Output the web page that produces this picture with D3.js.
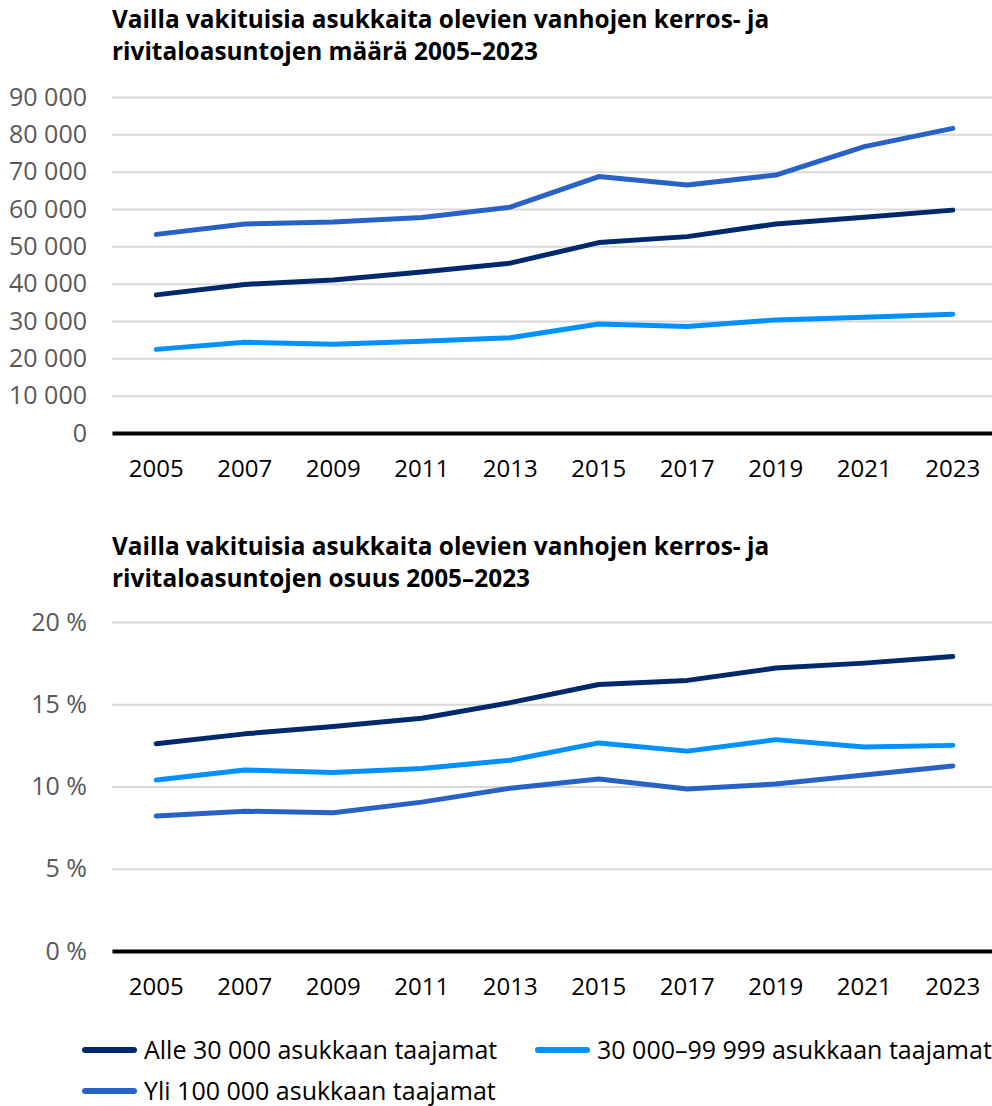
<!DOCTYPE html>
<html>
<head>
<meta charset="utf-8">
<script src="https://cdn.jsdelivr.net/npm/d3@7"></script>
<style>
  body { margin: 0; background: #fff; }
  svg { display: block; font-family: "Open Sans", "Noto Sans", sans-serif; }
</style>
</head>
<body>
<div id="chart"></div>
<script>
// ----- Data -------
const years = ["2005", "2007", "2009", "2011", "2013", "2015", "2017", "2019", "2021", "2023"];
const seriesNames = ["Alle 30 000 asukkaan taajamat", "30 000–99 999 asukkaan taajamat", "Yli 100 000 asukkaan taajamat"];
const seriesColors = ["#00296b", "#0091ff", "#2862c6"];

// määrä (count of dwellings)
const countSmall = [37000, 39800, 41000, 43100, 45500, 51000, 52600, 56000, 57800, 59700];
const countMid = [22400, 24300, 23800, 24600, 25500, 29200, 28500, 30300, 31000, 31800];
const countLarge = [53200, 56000, 56500, 57700, 60500, 68700, 66400, 69100, 76700, 81600];

// osuus (share, %)
const shareSmall = [12.6, 13.2, 13.65, 14.15, 15.1, 16.2, 16.45, 17.2, 17.5, 17.9];
const shareMid = [10.4, 11.0, 10.85, 11.1, 11.6, 12.65, 12.15, 12.85, 12.4, 12.5];
const shareLarge = [8.2, 8.5, 8.4, 9.05, 9.9, 10.45, 9.85, 10.15, 10.7, 11.25];

const countTicks = [0, 10000, 20000, 30000, 40000, 50000, 60000, 70000, 80000, 90000];
const shareTicks = [0, 5, 10, 15, 20];

const svg = d3.select("#chart").append("svg").attr("width", 992).attr("height", 1106);

const fi = d3.formatLocale({ decimal: ",", thousands: "\u00a0", grouping: [3], currency: ["", " €"] });
const fmtCount = fi.format(",");

const x = d3.scaleBand().domain(years).range([112, 997]).paddingInner(0).paddingOuter(0);
const cx = d => x(d) + x.bandwidth() / 2;

function drawTitle(lines, y0) {
  lines.forEach((t, i) => {
    svg.append("text")
      .attr("x", 112)
      .attr("y", y0 + i * 32)
      .style("font-size", "24.4px")
      .style("font-weight", "700")
      .attr("fill", "#000")
      .text(t);
  });
}

function drawChart(yScale, ticks, fmt, data) {
  // gridlines + tick labels
  const gy = svg.append("g")
    .attr("transform", "translate(112,0)")
    .call(d3.axisLeft(yScale).tickValues(ticks).tickSize(-885).tickPadding(25).tickFormat(fmt));
  gy.select(".domain").remove();
  gy.selectAll(".tick line").attr("stroke", "#d9d9d9").attr("stroke-width", 2);
  gy.selectAll(".tick text")
    .attr("fill", "#595959")
    .style("font-size", "25px")
    .style("font-family", "'Open Sans', sans-serif");

  // series lines
  const line = d3.line().x((d, i) => cx(years[i])).y(d => yScale(d));
  data.forEach((vals, k) => {
    svg.append("path")
      .datum(vals)
      .attr("d", line)
      .attr("fill", "none")
      .attr("stroke", seriesColors[k])
      .attr("stroke-width", 5)
      .attr("stroke-linecap", "round")
      .attr("stroke-linejoin", "round");
  });

  // x axis
  const gx = svg.append("g")
    .attr("transform", `translate(0,${yScale(0)})`)
    .call(d3.axisBottom(x).tickSize(0).tickPadding(27));
  gx.select(".domain").attr("stroke", "#000").attr("stroke-width", 4);
  gx.selectAll(".tick text")
    .attr("fill", "#000")
    .style("font-size", "24px")
    .style("font-family", "'Open Sans', sans-serif");
}

// ----- Chart 1: määrä -------
drawTitle(["Vailla vakituisia asukkaita olevien vanhojen kerros- ja",
           "rivitaloasuntojen määrä 2005–2023"], 28);
const y1 = d3.scaleLinear().domain([0, 90000]).range([433, 97]);
drawChart(y1, countTicks, fmtCount, [countSmall, countMid, countLarge]);

// ----- Chart 2: osuus -------
drawTitle(["Vailla vakituisia asukkaita olevien vanhojen kerros- ja",
           "rivitaloasuntojen osuus 2005–2023"], 555);
const y2 = d3.scaleLinear().domain([0, 20]).range([951, 622]);
drawChart(y2, shareTicks, d => d + " %", [shareSmall, shareMid, shareLarge]);

// ----- Legend -------
const legendPos = [[82, 1050], [535, 1050], [82, 1091]];
seriesNames.forEach((name, k) => {
  const [lx, ly] = legendPos[k];
  svg.append("line")
    .attr("x1", lx + 3).attr("x2", lx + 52)
    .attr("y1", ly).attr("y2", ly)
    .attr("stroke", seriesColors[k])
    .attr("stroke-width", 6)
    .attr("stroke-linecap", "round");
  svg.append("text")
    .attr("x", lx + 62)
    .attr("y", ly + 9)
    .style("font-size", "25px")
    .attr("fill", "#000")
    .text(name);
});
</script>
</body>
</html>
